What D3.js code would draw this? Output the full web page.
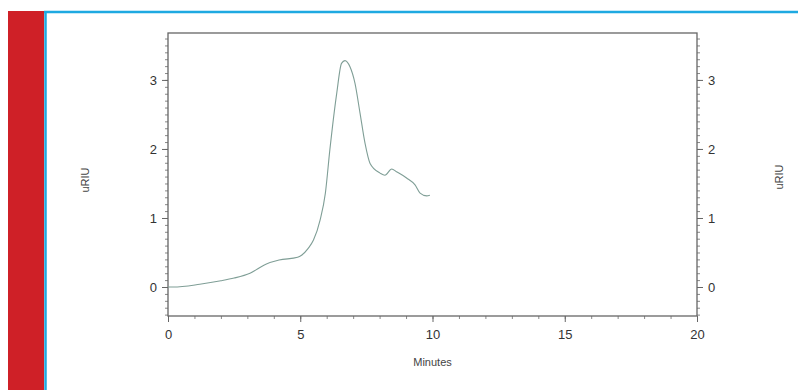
<!DOCTYPE html>
<html>
<head>
<meta charset="utf-8">
<script src="https://cdn.jsdelivr.net/npm/d3@7"></script>
<style>
  body { margin: 0; background: #fff; }
  svg { display: block; }
  .axis text { font-family: Arial, "Liberation Sans", sans-serif; font-size: 13px; fill: #333; }
  .axis path, .axis line { stroke: #666; }
  .minor line { stroke: #888; }
  .label { font-family: Arial, "Liberation Sans", sans-serif; font-size: 11px; fill: #444; }
</style>
</head>
<body>
<div id="chart"></div>
<script>
// trace (minutes, uRIU)
var minutes = [0, 0.2, 1.2, 2.0, 2.5, 3.1, 3.7, 4.2, 4.9, 5.05, 5.3, 5.5, 5.75, 5.95, 6.12, 6.38, 6.56, 6.69, 6.88, 7.07, 7.26, 7.45, 7.64, 8.02, 8.2, 8.46, 8.64, 9.02, 9.34, 9.53, 9.78, 9.9];
var uriu = [0, 0, 0.04, 0.09, 0.13, 0.2, 0.33, 0.39, 0.43, 0.46, 0.56, 0.68, 0.97, 1.36, 1.99, 2.81, 3.24, 3.28, 3.19, 2.95, 2.52, 2.08, 1.79, 1.65, 1.62, 1.71, 1.67, 1.58, 1.48, 1.36, 1.32, 1.33];
var xTicks = [0, 5, 10, 15, 20];
var yTicks = [0, 1, 2, 3];
var xLabel = "Minutes";
var yLabel = "uRIU";

function draw_chart() {
    var W = 798, H = 390;
    var margin = {top: 33, right: 101, bottom: 74, left: 168},
        width = W - margin.left - margin.right,
        height = H - margin.top - margin.bottom;

    var svg = d3.select("#chart").append("svg")
        .attr("width", W)
        .attr("height", H);

    // page decoration: red side bar and blue frame
    svg.append("rect").attr("x", 8).attr("y", 11).attr("width", 36).attr("height", H - 11).attr("fill", "#cf2027");
    svg.append("line").attr("x1", 44).attr("x2", W).attr("y1", 12).attr("y2", 12)
        .attr("stroke", "#1ea9e1").attr("stroke-width", 2.5);
    svg.append("line").attr("x1", 45.5).attr("x2", 45.5).attr("y1", 11).attr("y2", H)
        .attr("stroke", "#1ea9e1").attr("stroke-width", 2.5);

    var x = d3.scaleLinear().domain([0, 20]).range([0, width]);
    var y = d3.scaleLinear().domain([-0.42, 3.68]).range([height, 0]);

    var g = svg.append("g").attr("transform", `translate(${margin.left}, ${margin.top})`);

    // minor ticks
    var yMinor = d3.range(-4, 37).map(function(d) { return d / 10; });
    var xMinor = d3.range(0, 21);

    g.append("g").attr("class", "axis minor")
        .attr("transform", `translate(0, ${height})`)
        .call(d3.axisBottom(x).tickValues(xMinor).tickSize(3).tickFormat(""))
        .call(function(a) { a.select(".domain").remove(); });
    g.append("g").attr("class", "axis minor")
        .call(d3.axisLeft(y).tickValues(yMinor).tickSize(3).tickFormat(""))
        .call(function(a) { a.select(".domain").remove(); });
    g.append("g").attr("class", "axis minor")
        .attr("transform", `translate(${width}, 0)`)
        .call(d3.axisRight(y).tickValues(yMinor).tickSize(3).tickFormat(""))
        .call(function(a) { a.select(".domain").remove(); });

    // major axes
    g.append("g").attr("class", "axis")
        .attr("transform", `translate(0, ${height})`)
        .call(d3.axisBottom(x).tickValues(xTicks).tickSize(6).tickSizeOuter(0).tickPadding(8).tickFormat(d3.format("d")))
        .call(function(a) { a.select(".domain").remove(); });
    g.append("g").attr("class", "axis")
        .call(d3.axisLeft(y).tickValues(yTicks).tickSize(6).tickPadding(5).tickFormat(d3.format("d")))
        .call(function(a) { a.select(".domain").remove(); });
    g.append("g").attr("class", "axis")
        .attr("transform", `translate(${width}, 0)`)
        .call(d3.axisRight(y).tickValues(yTicks).tickSize(6).tickPadding(5).tickFormat(d3.format("d")))
        .call(function(a) { a.select(".domain").remove(); });

    // plot frame
    g.append("rect").attr("width", width).attr("height", height)
        .attr("fill", "none").attr("stroke", "#666").attr("stroke-width", 1.3);

    // trace
    var data = minutes.map(function(m, i) { return {m: m, v: uriu[i]}; });
    var valueline = d3.line()
        .curve(d3.curveMonotoneX)
        .x(function(d) { return x(d.m); })
        .y(function(d) { return y(d.v); });
    g.append("path")
        .datum(data)
        .attr("fill", "none")
        .attr("stroke", "#7f9e96")
        .attr("stroke-width", 1.1)
        .attr("d", valueline);

    // axis titles
    svg.append("text").attr("class", "label")
        .attr("x", margin.left + x(10)).attr("y", 366)
        .attr("text-anchor", "middle").text(xLabel);
    svg.append("text").attr("class", "label")
        .attr("transform", "translate(89, 180) rotate(-90)")
        .attr("text-anchor", "middle").text(yLabel);
    svg.append("text").attr("class", "label")
        .attr("transform", "translate(783, 177) rotate(-90)")
        .attr("text-anchor", "middle").text(yLabel);
}

draw_chart();
</script>
</body>
</html>
